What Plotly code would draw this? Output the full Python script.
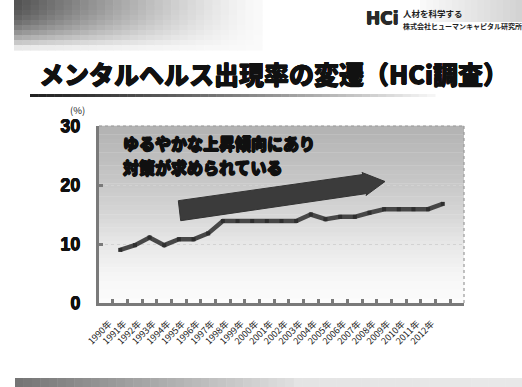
import plotly.graph_objects as go

# ---- data -------------------------------------------------------------
years = [f"{y}年" for y in range(1990, 2013)]
rate = [9.0, 9.8, 11.1, 9.8, 10.8, 10.8, 11.8, 13.9, 13.9, 13.9, 13.9, 13.9,
        13.9, 15.0, 14.2, 14.6, 14.6, 15.3, 15.9, 15.9, 15.9, 15.9, 16.8]
y_ticks = [0, 10, 20, 30]

title_text = "メンタルヘルス出現率の変遷（HCi調査）"
note_lines = ["ゆるやかな上昇傾向にあり", "対策が求められている"]
unit_text = "(%)"
brand_tag = "人材を科学する"
brand_name = "株式会社ヒューマンキャピタル研究所"

# ---- page geometry (pixels) -------------------------------------------
W, H = 522, 387
L, R, T, B = 99, 464, 126, 303          # plot box


def px(x, y):
    """pixel position -> paper coordinates"""
    return (x - L) / (R - L), (B - y) / (B - T)


def gray(v):
    v = int(round(max(0, min(255, v))))
    return f"rgb({v},{v},{v})"


def heavy(color, d=0.6):
    """text-shadow list that thickens glyph strokes"""
    return ", ".join(f"{dx}px {dy}px 0px {color}"
                     for dx, dy in [(d, 0), (-d, 0), (0, d), (0, -d)])


shapes = []

# plot background: grey at the top fading to white at the bottom
stops = [(0.0, 252), (0.15, 246), (0.33, 232), (0.5, 214), (0.67, 200), (1.0, 178)]
n = 40
for i in range(n):
    f0, f1 = i / n, (i + 1) / n
    fm = (f0 + f1) / 2
    for (a, ga), (b, gb) in zip(stops[:-1], stops[1:]):
        if a <= fm <= b:
            g = ga + (gb - ga) * (fm - a) / (b - a)
            break
    shapes.append(dict(type="rect", xref="paper", yref="paper", x0=0, x1=1,
                       y0=f0, y1=f1 + 0.002, line_width=0, fillcolor=gray(g),
                       layer="below"))

# top and right frame lines (thin, dotted)
shapes.append(dict(type="line", xref="paper", yref="paper", x0=0, x1=1, y0=1, y1=1,
                   line=dict(color="#9a9a9a", width=1.2, dash="dot")))
shapes.append(dict(type="line", xref="paper", yref="paper", x0=1, x1=1, y0=0, y1=1,
                   line=dict(color="#9a9a9a", width=1.2, dash="dot")))

# trend arrow
arrow_px = [(178.3, 200.7), (363, 174.5), (362, 172.5), (385, 181.5),
            (366, 195.5), (367, 193.5), (180.7, 220.7)]
pts = [px(*p) for p in arrow_px]
path = "M " + " L ".join(f"{x:.4f},{y:.4f}" for x, y in pts) + " Z"
shapes.append(dict(type="path", xref="paper", yref="paper", path=path,
                   fillcolor="#3b3b3b", line=dict(color="#333333", width=1)))

# header decoration, top-left: dark grey fading right and down
cols, rows = 30, 10
x_a, x_b, y_a, y_b = 14, 262, 0, 50
for i in range(cols):
    for j in range(rows):
        fx = (i + 0.5) / cols
        fy = (j + 0.5) / rows
        dark = (1 - fx) ** 1.3 * (1 - fy ** 2.2)
        g = 250 - 170 * dark
        xa0 = x_a + (x_b - x_a) * i / cols
        xa1 = x_a + (x_b - x_a) * (i + 1) / cols + 0.6
        ya0 = y_a + (y_b - y_a) * j / rows
        ya1 = y_a + (y_b - y_a) * (j + 1) / rows + 0.6
        p0 = px(xa0, ya1)
        p1 = px(xa1, ya0)
        shapes.append(dict(type="rect", xref="paper", yref="paper",
                           x0=p0[0], y0=p0[1], x1=p1[0], y1=p1[1],
                           line_width=0, fillcolor=gray(g), layer="below"))

# header decoration, top-right light grey
for i in range(16):
    fx = (i + 0.5) / 16
    g = 250 - 40 * fx
    xa0 = 420 + 102 * i / 16
    xa1 = 420 + 102 * (i + 1) / 16 + 0.6
    p0 = px(xa0, 22)
    p1 = px(xa1, 0)
    shapes.append(dict(type="rect", xref="paper", yref="paper",
                       x0=p0[0], y0=p0[1], x1=p1[0], y1=p1[1],
                       line_width=0, fillcolor=gray(g), layer="below"))

# title underline: dark on the left fading out to the right
seg = 50
for i in range(seg):
    f = i / seg
    xa0 = 30 + 405 * i / seg
    xa1 = 30 + 405 * (i + 1) / seg + 0.5
    p0 = px(xa0, 97)
    p1 = px(xa1, 94)
    shapes.append(dict(type="rect", xref="paper", yref="paper",
                       x0=p0[0], y0=p0[1], x1=p1[0], y1=p1[1],
                       line_width=0, fillcolor=gray(35 + 215 * f ** 1.2)))

# footer band
seg = 60
for i in range(seg):
    f = (i + 0.5) / seg
    g = 115 + 110 * min(1, f * 1.8) if f < 0.55 else 228 + 10 * (f - 0.55)
    xa0 = 15 + 507 * i / seg
    xa1 = 15 + 507 * (i + 1) / seg + 0.5
    p0 = px(xa0, 387)
    p1 = px(xa1, 378)
    shapes.append(dict(type="rect", xref="paper", yref="paper",
                       x0=p0[0], y0=p0[1], x1=p1[0], y1=p1[1],
                       line_width=0, fillcolor=gray(g)))

# ---- annotations ------------------------------------------------------
annotations = []
tx, ty = px(37, 73)
annotations.append(dict(text=title_text, xref="paper", yref="paper", x=tx, y=ty,
                        xanchor="left", yanchor="middle", showarrow=False,
                        font=dict(family="Noto Sans CJK JP", size=25, color="#111111",
                                  weight=900, shadow=heavy("#111111", 0.5))))

ux, uy = px(77, 110)
annotations.append(dict(text=unit_text, xref="paper", yref="paper", x=ux, y=uy,
                        xanchor="center", yanchor="middle", showarrow=False,
                        font=dict(family="Noto Sans CJK JP", size=9.5, color="#222222")))

for line, ypix in zip(note_lines, [143, 167]):
    nx, ny = px(121, ypix)
    annotations.append(dict(text=line, xref="paper", yref="paper", x=nx, y=ny,
                            xanchor="left", yanchor="middle", showarrow=False,
                            font=dict(family="Noto Sans CJK JP", size=16, color="#101010",
                                      weight=900, shadow=heavy("#101010", 0.7))))

# logo and company name
lx, ly = px(382, 18)
annotations.append(dict(text="HCi", xref="paper", yref="paper", x=lx, y=ly,
                        xanchor="center", yanchor="middle", showarrow=False,
                        font=dict(family="DejaVu Sans", size=17, color="#2a2a2a",
                                  weight="bold", shadow=heavy("#2a2a2a", 0.5))))
bx, by = px(401, 13)
annotations.append(dict(text=brand_tag, xref="paper", yref="paper", x=bx, y=by,
                        xanchor="left", yanchor="middle", showarrow=False,
                        font=dict(family="Noto Sans CJK JP", size=8.5, color="#222222",
                                  weight="bold")))
bx, by = px(401, 26)
annotations.append(dict(text=brand_name, xref="paper", yref="paper", x=bx, y=by,
                        xanchor="left", yanchor="middle", showarrow=False,
                        font=dict(family="Noto Sans CJK JP", size=7, color="#222222",
                                  weight="bold")))

# ---- figure -----------------------------------------------------------
fig = go.Figure()
fig.add_trace(go.Scatter(
    x=years, y=rate, mode="lines+markers",
    line=dict(color="#474747", width=4.5),
    marker=dict(symbol="square", size=4, color="#2e2e2e"),
    hoverinfo="skip", showlegend=False,
))

fig.update_layout(
    width=W, height=H, autosize=False,
    margin=dict(l=L, r=W - R, t=T, b=H - B, pad=0),
    paper_bgcolor="white", plot_bgcolor="white",
    shapes=shapes, annotations=annotations,
    xaxis=dict(
        type="category", categoryorder="array", categoryarray=years,
        tickson="boundaries", ticks="inside", ticklen=4, tickwidth=3,
        tickcolor="#7a7a7a", showline=True, linecolor="#7a7a7a", linewidth=3,
        showgrid=False, tickangle=-45, ticklabelshift=-11, ticklabelstandoff=9,
        tickfont=dict(family="Noto Sans CJK JP", size=9, color="#222222"),
    ),
    yaxis=dict(
        range=[0, 30], tickvals=y_ticks, ticks="inside", ticklen=4, tickwidth=3,
        tickcolor="#7a7a7a", showline=True, linecolor="#7a7a7a", linewidth=3,
        showgrid=True, gridcolor="#d2d2d2", griddash="dot", gridwidth=1,
        zeroline=False, ticklabelstandoff=12,
        tickfont=dict(family="Liberation Sans", size=18, color="#111111",
                      weight="bold", shadow=heavy("#111111", 0.4)),
    ),
)

fig.write_html("out.html")
